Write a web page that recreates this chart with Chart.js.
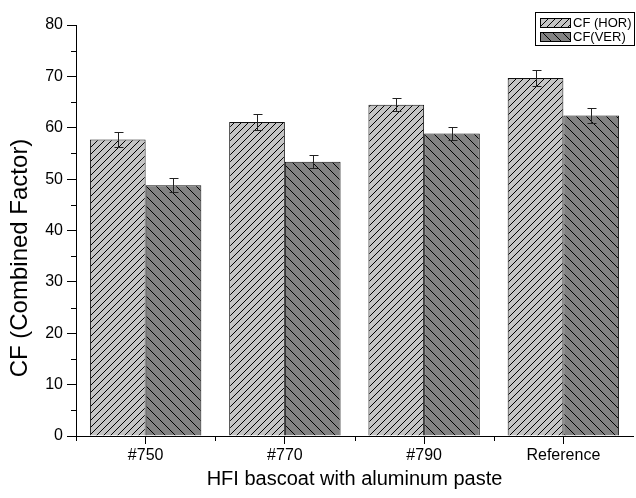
<!DOCTYPE html>
<html>
<head>
<meta charset="utf-8">
<script src="https://cdn.jsdelivr.net/npm/chart.js@4/dist/chart.umd.min.js"></script>
<style>
  body { margin: 0; background: #fff; }
  #wrap { width: 636px; height: 498px; position: relative; }
</style>
</head>
<body>
<div id="wrap"><canvas id="cfChart"></canvas></div>
<script>
var categories = ['#750', '#770', '#790', 'Reference'];
var cfHor = [57.7, 61.1, 64.5, 69.7];
var cfHorErr = [1.5, 1.6, 1.3, 1.5];
var cfVer = [48.8, 53.4, 58.9, 62.4];
var cfVerErr = [1.4, 1.3, 1.2, 1.4];
var yMin = 0, yMax = 80, yStep = 10;
var yTitle = 'CF (Combined Factor)';

var FONT = "'Liberation Sans', Arial, sans-serif";

// hatch fill: diagonal lines on a grey background
function hatch(bg, size, forward) {
    var c = document.createElement('canvas');
    c.width = size; c.height = size;
    var g = c.getContext('2d');
    g.fillStyle = bg;
    g.fillRect(0, 0, size, size);
    g.strokeStyle = '#000';
    g.lineWidth = 1;
    g.beginPath();
    if (forward) {
        g.moveTo(0, size); g.lineTo(size, 0);
        g.moveTo(-1, 1); g.lineTo(1, -1);
        g.moveTo(size - 1, size + 1); g.lineTo(size + 1, size - 1);
    } else {
        g.moveTo(0, 0); g.lineTo(size, size);
        g.moveTo(size - 1, -1); g.lineTo(size + 1, 1);
        g.moveTo(-1, size - 1); g.lineTo(1, size + 1);
    }
    g.stroke();
    return g.createPattern(c, 'repeat');
}

var horFill = hatch('#c4c4c4', 7, true);
var verFill = hatch('#828282', 10, false);

// error bars drawn through the scales
var errorBars = {
    id: 'errorBars',
    afterDatasetsDraw: function(chart) {
        var ctx = chart.ctx;
        var ys = chart.scales.y;
        ctx.save();
        ctx.strokeStyle = '#222';
        ctx.lineWidth = 1;
        chart.data.datasets.forEach(function(ds, di) {
            var meta = chart.getDatasetMeta(di);
            meta.data.forEach(function(bar, i) {
                var x = Math.round(bar.x) + 0.5;
                var top = Math.round(ys.getPixelForValue(ds.data[i] + ds.err[i])) + 0.5;
                var bot = Math.round(ys.getPixelForValue(ds.data[i] - ds.err[i])) + 0.5;
                ctx.beginPath();
                ctx.moveTo(x, top); ctx.lineTo(x, bot);
                ctx.moveTo(x - 4, top); ctx.lineTo(x + 5, top);
                ctx.moveTo(x - 4, bot); ctx.lineTo(x + 5, bot);
                ctx.stroke();
            });
        });
        ctx.restore();
    }
};

// short minor ticks on both axes, plus the y title (sits a bit low, like the original)
var minorTicks = {
    id: 'minorTicks',
    afterDraw: function(chart) {
        var ctx = chart.ctx;
        var xs = chart.scales.x, ys = chart.scales.y;
        ctx.save();
        ctx.strokeStyle = '#000';
        ctx.lineWidth = 1;
        ctx.beginPath();
        for (var v = yMin + yStep / 2; v < yMax; v += yStep) {
            var y = Math.round(ys.getPixelForValue(v)) + 0.5;
            ctx.moveTo(ys.right - 5, y); ctx.lineTo(ys.right, y);
        }
        var w = xs.getPixelForValue(1) - xs.getPixelForValue(0);
        for (var i = 0; i < categories.length; i++) {
            var x = Math.round(xs.getPixelForValue(i) - w / 2) + 0.5;
            ctx.moveTo(x, xs.top); ctx.lineTo(x, xs.top + 5);
        }
        ctx.stroke();

        ctx.translate(20, 258);
        ctx.rotate(-Math.PI / 2);
        ctx.fillStyle = '#000';
        ctx.font = '24px ' + FONT;
        ctx.textAlign = 'center';
        ctx.textBaseline = 'middle';
        ctx.fillText(yTitle, 0, 0);
        ctx.restore();
    }
};

// boxed legend in the top right corner
var boxLegend = {
    id: 'boxLegend',
    afterDraw: function(chart) {
        var ctx = chart.ctx;
        ctx.save();
        ctx.strokeStyle = '#000';
        ctx.lineWidth = 1;
        ctx.fillStyle = '#fff';
        ctx.fillRect(535.5, 12.5, 99, 33);
        ctx.strokeRect(535.5, 12.5, 99, 33);
        ctx.font = '13px ' + FONT;
        ctx.textBaseline = 'middle';
        chart.data.datasets.forEach(function(ds, i) {
            var y = 18.5 + i * 14;
            ctx.fillStyle = ds.backgroundColor;
            ctx.fillRect(540.5, y, 30, 9);
            ctx.strokeRect(540.5, y, 30, 9);
            ctx.fillStyle = '#000';
            ctx.fillText(ds.label, 573, y + 5);
        });
        ctx.restore();
    }
};

new Chart(document.getElementById('cfChart').getContext('2d'), {
    type: 'bar',
    data: {
        labels: categories,
        datasets: [{
            label: 'CF (HOR)',
            data: cfHor,
            err: cfHorErr,
            backgroundColor: horFill,
            borderColor: '#111',
            borderWidth: 1
        }, {
            label: 'CF(VER)',
            data: cfVer,
            err: cfVerErr,
            backgroundColor: verFill,
            borderColor: '#111',
            borderWidth: 1
        }]
    },
    options: {
        responsive: true,
        maintainAspectRatio: false,
        animation: false,
        layout: { padding: { top: 25, right: 3, left: 0, bottom: 0 } },
        datasets: { bar: { barPercentage: 1.0, categoryPercentage: 0.8 } },
        plugins: {
            legend: { display: false },
            tooltip: { enabled: false }
        },
        scales: {
            x: {
                afterFit: function(scale) { scale.height = 62; },
                grid: { display: true, offset: false, drawOnChartArea: false, tickLength: 8, color: '#000' },
                border: { display: true, color: '#000', width: 1 },
                ticks: { color: '#000', padding: 2, font: { family: FONT, size: 16 } },
                title: {
                    display: true,
                    text: 'HFI bascoat with aluminum paste',
                    color: '#000',
                    font: { family: FONT, size: 20 },
                    padding: { top: 2, bottom: 7 }
                }
            },
            y: {
                min: yMin,
                max: yMax,
                afterFit: function(scale) { scale.width = 76; },
                grid: { display: true, drawOnChartArea: false, tickLength: 9, color: '#000' },
                border: { display: true, color: '#000', width: 1 },
                ticks: { stepSize: yStep, color: '#000', padding: 4, font: { family: FONT, size: 16 } },
                title: { display: false }
            }
        }
    },
    plugins: [errorBars, minorTicks, boxLegend]
});
</script>
</body>
</html>
